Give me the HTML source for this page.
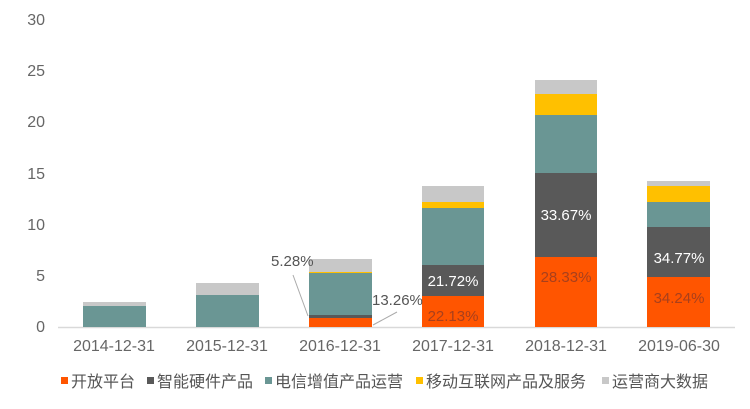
<!DOCTYPE html><html><head><meta charset="utf-8"><style>body{margin:0;background:#fff}</style></head><body>
<svg width="750" height="404" xmlns="http://www.w3.org/2000/svg" font-family="Liberation Sans, Noto Sans CJK SC, sans-serif">
<g fill="#666" font-size="16" text-anchor="end">
<text x="45" y="332">0</text><text x="45" y="281">5</text><text x="45" y="230">10</text><text x="45" y="179">15</text><text x="45" y="127">20</text><text x="45" y="76">25</text><text x="45" y="25">30</text></g>
<line x1="58" y1="327.5" x2="735" y2="327.5" stroke="#d9d9d9" stroke-width="1.5"/>
<g>
<rect x="83" y="306" width="63" height="21" fill="#6a9694"/><rect x="83" y="302" width="63" height="4" fill="#c8c8c8"/>
<rect x="196" y="295" width="63" height="32" fill="#6a9694"/><rect x="196" y="283" width="63" height="12" fill="#c8c8c8"/>
<rect x="309" y="318" width="63" height="9" fill="#ff5500"/><rect x="309" y="315" width="63" height="3" fill="#595959"/><rect x="309" y="273" width="63" height="42" fill="#6a9694"/><rect x="309" y="272" width="63" height="1" fill="#ffc000"/><rect x="309" y="259" width="63" height="13" fill="#c8c8c8"/>
<rect x="422" y="296" width="62" height="31" fill="#ff5500"/><rect x="422" y="265" width="62" height="31" fill="#595959"/><rect x="422" y="208" width="62" height="57" fill="#6a9694"/><rect x="422" y="202" width="62" height="6" fill="#ffc000"/><rect x="422" y="186" width="62" height="16" fill="#c8c8c8"/>
<rect x="535" y="257" width="62" height="70" fill="#ff5500"/><rect x="535" y="173" width="62" height="84" fill="#595959"/><rect x="535" y="115" width="62" height="58" fill="#6a9694"/><rect x="535" y="94" width="62" height="21" fill="#ffc000"/><rect x="535" y="80" width="62" height="14" fill="#c8c8c8"/>
<rect x="647" y="277" width="63" height="50" fill="#ff5500"/><rect x="647" y="227" width="63" height="50" fill="#595959"/><rect x="647" y="202" width="63" height="25" fill="#6a9694"/><rect x="647" y="186" width="63" height="16" fill="#ffc000"/><rect x="647" y="181" width="63" height="5" fill="#c8c8c8"/>
</g>
<g font-size="15" text-anchor="middle">
<text x="453" y="321" fill="#a8401c">22.13%</text><text x="453" y="286" fill="#fff">21.72%</text>
<text x="566" y="220" fill="#fff">33.67%</text><text x="566" y="282" fill="#a8401c">28.33%</text>
<text x="679" y="263" fill="#fff">34.77%</text><text x="679" y="303" fill="#a8401c">34.24%</text>
</g>
<g font-size="15" fill="#555">
<text x="271" y="266">5.28%</text><text x="372" y="305">13.26%</text></g>
<line x1="293" y1="275" x2="308" y2="316" stroke="#aaa"/><line x1="397" y1="312" x2="373" y2="325" stroke="#aaa"/>
<g fill="#666" font-size="16" text-anchor="middle">
<text x="114" y="351">2014-12-31</text><text x="227" y="351">2015-12-31</text><text x="340" y="351">2016-12-31</text><text x="453" y="351">2017-12-31</text><text x="566" y="351">2018-12-31</text><text x="679" y="351">2019-06-30</text></g>
<g font-size="16" fill="#555">
<rect x="61" y="377" width="7" height="7" fill="#ff5500"/><text x="71" y="387">开放平台</text>
<rect x="147" y="377" width="7" height="7" fill="#595959"/><text x="157" y="387">智能硬件产品</text>
<rect x="265" y="377" width="7" height="7" fill="#6a9694"/><text x="275" y="387">电信增值产品运营</text>
<rect x="416" y="377" width="7" height="7" fill="#ffc000"/><text x="426" y="387">移动互联网产品及服务</text>
<rect x="602" y="377" width="7" height="7" fill="#c8c8c8"/><text x="612" y="387">运营商大数据</text>
</g>
</svg></body></html>
